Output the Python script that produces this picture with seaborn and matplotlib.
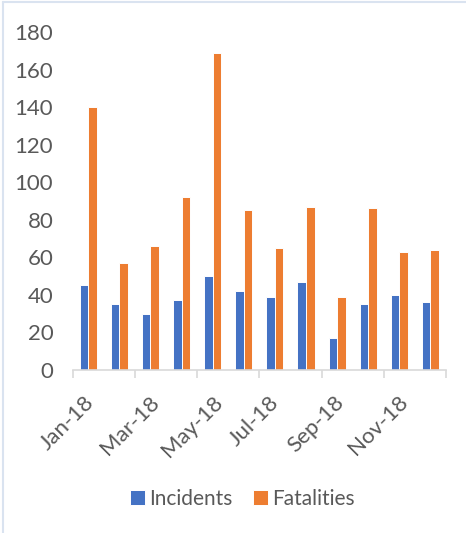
import pandas as pd
import numpy as np
import seaborn as sns
import matplotlib.pyplot as plt
from matplotlib.lines import Line2D
import matplotlib.transforms as mtransforms

months = ['Jan-18', 'Feb-18', 'Mar-18', 'Apr-18', 'May-18', 'Jun-18',
          'Jul-18', 'Aug-18', 'Sep-18', 'Oct-18', 'Nov-18', 'Dec-18']
incidents = [45, 35, 30, 37, 50, 42, 39, 47, 17, 35, 40, 36]
fatalities = [140, 57, 66, 92, 169, 85, 65, 87, 39, 86, 63, 64]
tick_labels = ['Jan-18', 'Mar-18', 'May-18', 'Jul-18', 'Sep-18', 'Nov-18', '']

df = pd.DataFrame({'month': months * 2,
                   'value': incidents + fatalities,
                   'series': ['Incidents'] * 12 + ['Fatalities'] * 12})

sns.set_style('white')
plt.rcParams['font.family'] = ['Lato', 'DejaVu Sans']

fig = plt.figure(figsize=(4.66, 5.33), dpi=100)
ax = fig.add_axes([0.156, 0.306, 0.801, 0.634])

sns.barplot(data=df, x='month', y='value', hue='series', order=months,
            palette={'Incidents': '#4472C4', 'Fatalities': '#ED7D31'},
            saturation=1, width=0.55, edgecolor='white', linewidth=0.7, ax=ax)

ax.set_xlim(-0.5, 11.5)
ax.set_ylim(0, 180)
ax.set_yticks(range(0, 181, 20))
ax.set_xlabel('')
ax.set_ylabel('')

for s in ['top', 'right', 'left']:
    ax.spines[s].set_visible(False)
ax.spines['bottom'].set_color('#d9d9d9')
ax.spines['bottom'].set_linewidth(1.2)

fs = 16
ax.set_xticks(np.arange(-0.5, 12, 2))
ax.set_xticklabels(tick_labels, rotation=45, ha='center', va='top')
ax.tick_params(axis='x', length=6, width=1.2, color='#d9d9d9', pad=10,
               labelsize=fs, labelcolor='#595959', bottom=True)
ax.tick_params(axis='y', length=0, pad=14, labelsize=fs, labelcolor='#595959')

offset = mtransforms.ScaledTranslation(-5 / 100, 0, fig.dpi_scale_trans)
for lab in ax.get_xticklabels():
    lab.set_transform(lab.get_transform() + offset)

handles, labels = ax.get_legend_handles_labels()
ax.get_legend().remove()
fig.legend(handles, labels, loc='center', bbox_to_anchor=(0.52, 0.064), ncol=2,
           frameon=False, fontsize=15, labelcolor='#595959',
           handlelength=0.7, handleheight=0.7, handletextpad=0.2,
           columnspacing=1.0)

fig.add_artist(Line2D([0.0065, 0.0065], [0, 0.996], color='#dae3f0', lw=1.5))
fig.add_artist(Line2D([0.0065, 1], [0.996, 0.996], color='#dae3f0', lw=1.5))

fig.savefig('out.png', dpi=100)
